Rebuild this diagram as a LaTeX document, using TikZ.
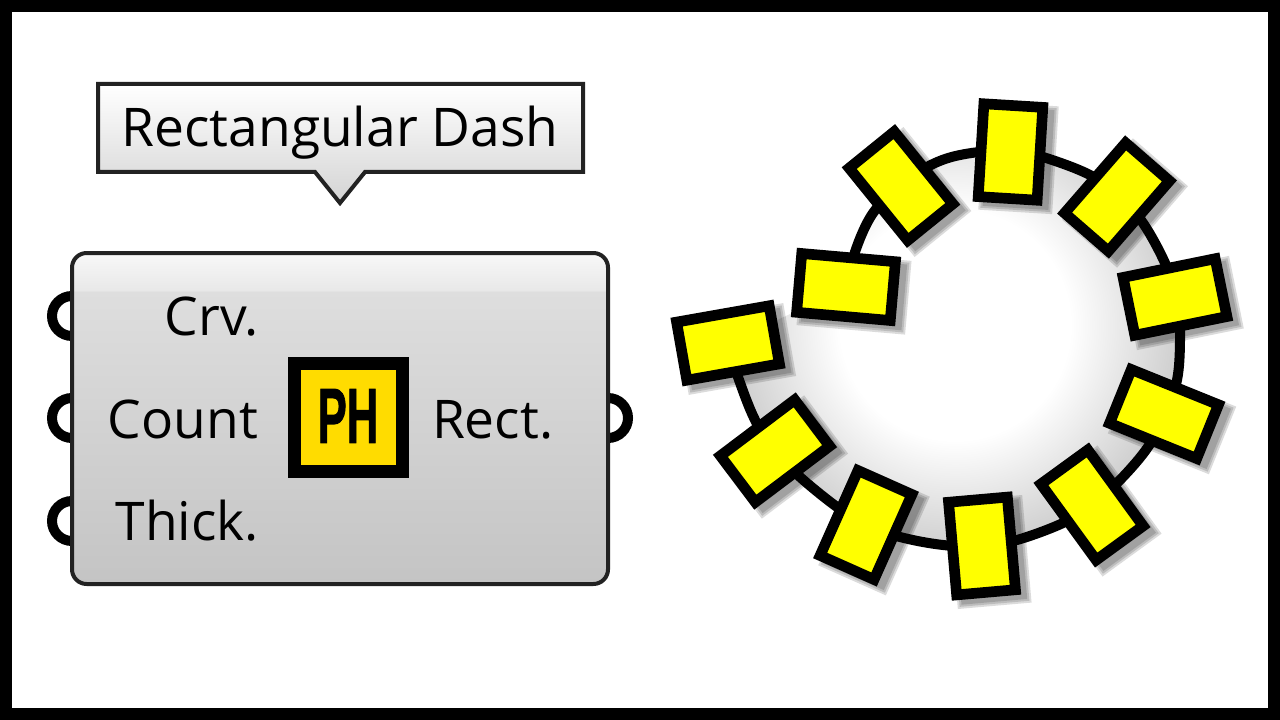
\documentclass[tikz,border=0pt]{standalone}
\usepackage{fontspec}
\setmainfont{Open Sans}
\newfontfamily\iconfont[FakeBold=1.5]{Liberation Sans}
\definecolor{compB}{HTML}{C4C4C4}
\definecolor{compM}{HTML}{DEDEDE}
\definecolor{compH}{HTML}{E8E8E8}
\definecolor{compT}{HTML}{F8F8F8}
\definecolor{ringG}{HTML}{C8C8C8}
\definecolor{edgedark}{HTML}{222222}
\definecolor{iconyellow}{HTML}{FFDC00}
\definecolor{dashyellow}{HTML}{FFFF00}
\pgfdeclareverticalshading{compfill}{100bp}{color(0bp)=(compB);color(25bp)=(compB);color(69.2bp)=(compM);color(69.3bp)=(compH);color(75bp)=(compT);color(100bp)=(compT)}
\pgfdeclareradialshading{ringglow}{\pgfpoint{0bp}{0bp}}{color(0bp)=(white);color(12bp)=(white);color(25bp)=(ringG);color(50bp)=(ringG)}
\tikzset{
  labeltext/.style={font=\fontsize{40}{40}\selectfont,inner sep=0pt,outer sep=0pt,text=black},
  portring/.style={circle,draw=black,line width=7.5pt,minimum size=30pt,inner sep=0pt,fill=none},
  dashbox/.style={rectangle,draw=black,fill=dashyellow,line width=8pt,inner sep=0pt,outer sep=0pt},
  dashshade/.style={rectangle,fill=black,fill opacity=0.14,draw=none,inner sep=0pt,outer sep=0pt},
  ringpath/.style={insert path={plot[smooth,tension=.6] coordinates {(848,287) (855,252) (873,213) (900,187) (927,167) (960,155) (1010,150) (1043,157) (1090,175) (1120,197) (1143,223) (1165,263) (1178,300) (1180,340) (1177,380) (1165,414) (1148,447) (1120,480) (1092,505) (1063,523) (1017,540) (982,546) (943,545) (900,537) (866,525) (837,507) (800,477) (775,451) (755,420) (738,377) (728,343)}}}
}
\begin{document}
\begin{tikzpicture}[x=0.75pt,y=0.75pt,yscale=-1,xscale=1]
    % Frame
    \fill[black] (0,0) rectangle (1280,720);
    \fill[white] (12,12) rectangle (1268,708);

    % Tooltip
    \draw[draw=edgedark,line width=3pt,line join=miter,top color=white,bottom color=black!17]
      (98,84) -- (583,84) -- (583,172) -- (365,172) -- (340,203) -- (315,172) -- (98,172) -- cycle;
    \node[font=\fontsize{40}{40}\selectfont,inner sep=0pt,anchor=base] (tiptext) at (340,147) {Rectangular Dash};

    % Ports
    \node[portring] (portA) at (72,316) {};
    \node[portring] (portB) at (72,418) {};
    \node[portring] (portC) at (72,521) {};
    \node[portring] (portR) at (608,418) {};

    % Component
    \draw[draw=edgedark,line width=3pt,rounded corners=11pt,shading=compfill] (72,253) rectangle (608,584);
    \node[labeltext,anchor=base east] (crv) at (259,335) {Crv.};
    \node[labeltext,anchor=base east] (count) at (258,438) {Count};
    \node[labeltext,anchor=base east] (thick) at (259,540) {Thick.};
    \node[labeltext,anchor=base west] (rect) at (432,438) {Rect.};

    % Icon
    \node[rectangle,draw=black,fill=iconyellow,line width=9.75pt,minimum size=81pt,inner sep=0pt] (icon) at (348.5,417.5) {};
    \node[font=\iconfont\bfseries\fontsize{58.5}{58.5}\selectfont,xscale=0.56,inner sep=0pt] (iconname) at (348,416) {PH};

    % Ring
    \begin{scope}
      \clip[ringpath];
      \shade[shading=ringglow] (955,325) circle [radius=240];
    \end{scope}
    \foreach \px/\py/\w/\h/\rot in {1010.5/152/59/93/-3.5, 1117/197/58/93/-41, 1175/297/94/59/11.5, 1164/414/94/58/-22, 1092/505/58/94/36, 982/546/59/93/5, 866/525/59/93/-24, 775/451/93/58/37, 728/343/94/59/10, 846/287/94/59/-5, 901/186/58/93/39}
    {
      \foreach \grow in {15,11,7}
        \node[dashshade,rotate=\rot,minimum width=(\w+\grow)*0.75pt,minimum height=(\h+\grow)*0.75pt] at (\px+8,\py+6) {};
    }
    \draw[line width=7.5pt,draw=black,ringpath];

    % Dashes
    \foreach \px/\py/\w/\h/\rot/\dashname in {1010.5/152/59/93/-3.5/dashA, 1117/197/58/93/-41/dashB, 1175/297/94/59/11.5/dashC, 1164/414/94/58/-22/dashD, 1092/505/58/94/36/dashE, 982/546/59/93/5/dashF, 866/525/59/93/-24/dashG, 775/451/93/58/37/dashH, 728/343/94/59/10/dashI, 846/287/94/59/-5/dashJ, 901/186/58/93/39/dashK}
      \node[dashbox,rotate=\rot,minimum width=\w*0.75pt,minimum height=\h*0.75pt] (\dashname) at (\px,\py) {};
\end{tikzpicture}
\end{document}
